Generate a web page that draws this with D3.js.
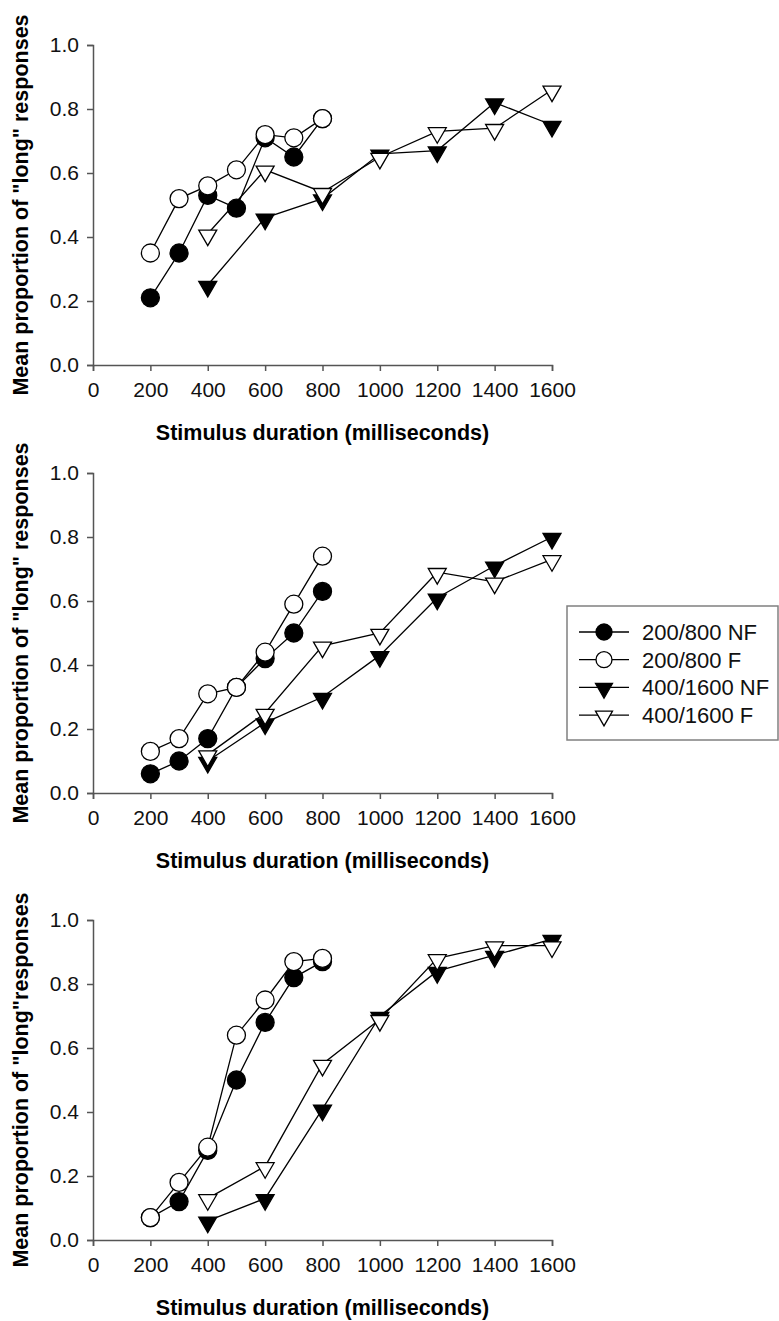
<!DOCTYPE html>
<html>
<head>
<meta charset="utf-8">
<script src="https://cdn.jsdelivr.net/npm/d3@7"></script>
<style>
  body { margin: 0; background: #fff; }
  svg { display: block; font-family: "Liberation Sans", Arial, sans-serif; }
</style>
</head>
<body>
<div id="chart"></div>
<script>
// stimulus durations for the two ranges
var shortDurations = [200, 300, 400, 500, 600, 700, 800];
var longDurations = [400, 600, 800, 1000, 1200, 1400, 1600];

var seriesNames = ['200/800 NF', '200/800 F', '400/1600 NF', '400/1600 F'];
var xTicks = [0, 200, 400, 600, 800, 1000, 1200, 1400, 1600];
var yTicks = [0, 0.2, 0.4, 0.6, 0.8, 1.0];
var xTitle = 'Stimulus duration (milliseconds)';
var yTitles = [
    'Mean proportion of "long" responses',
    'Mean proportion of "long" responses',
    'Mean proportion of "long"responses'
];

// top panel
var topShortNF = [0.21, 0.35, 0.53, 0.49, 0.71, 0.65, 0.77];
var topShortF = [0.35, 0.52, 0.56, 0.61, 0.72, 0.71, 0.77];
var topLongNF = [0.25, 0.46, 0.52, 0.66, 0.67, 0.82, 0.75];
var topLongF = [0.41, 0.61, 0.54, 0.65, 0.73, 0.74, 0.86];

// middle panel
var midShortNF = [0.06, 0.10, 0.17, 0.33, 0.42, 0.50, 0.63];
var midShortF = [0.13, 0.17, 0.31, 0.33, 0.44, 0.59, 0.74];
var midLongNF = [0.10, 0.22, 0.30, 0.43, 0.61, 0.71, 0.80];
var midLongF = [0.12, 0.25, 0.46, 0.50, 0.69, 0.66, 0.73];

// bottom panel
var botShortNF = [0.07, 0.12, 0.28, 0.50, 0.68, 0.82, 0.87];
var botShortF = [0.07, 0.18, 0.29, 0.64, 0.75, 0.87, 0.88];
var botLongNF = [0.06, 0.13, 0.41, 0.70, 0.84, 0.89, 0.94];
var botLongF = [0.13, 0.23, 0.55, 0.69, 0.88, 0.92, 0.92];

var panels = [
    {top: 45, series: [topShortNF, topShortF, topLongNF, topLongF]},
    {top: 473, series: [midShortNF, midShortF, midLongNF, midLongF]},
    {top: 920, series: [botShortNF, botShortF, botLongNF, botLongF]}
];

// marker style per series: shape + fill
var styles = [
    {shape: 'circle', fill: '#000'},
    {shape: 'circle', fill: '#fff'},
    {shape: 'triangle', fill: '#000'},
    {shape: 'triangle', fill: '#fff'}
];

var W = 779, H = 1321;
var left = 93, plotW = 459, plotH = 320;

var svg = d3.select('#chart').append('svg')
    .attr('width', W)
    .attr('height', H);

var xScale = d3.scaleLinear().domain([0, 1600]).range([left, left + plotW]);

var triPath = d3.symbol().type(d3.symbolTriangle).size(140)();
var triPathSmall = d3.symbol().type(d3.symbolTriangle).size(125)();

function drawMarker(g, shape, fill, x, y, small) {
    if (shape === 'circle') {
        g.append('circle')
            .attr('cx', x).attr('cy', y)
            .attr('r', small ? 8 : 9)
            .attr('fill', fill)
            .attr('stroke', '#000')
            .attr('stroke-width', 1.3);
    } else {
        g.append('path')
            .attr('d', small ? triPathSmall : triPath)
            .attr('transform', 'translate(' + x + ',' + (y + (small ? 1 : 1.5)) + ') rotate(180)')
            .attr('fill', fill)
            .attr('stroke', '#000')
            .attr('stroke-width', 1.3)
            .attr('stroke-linejoin', 'miter');
    }
}

panels.forEach(function (p, pi) {
    var yScale = d3.scaleLinear().domain([0, 1]).range([p.top + plotH, p.top]);
    var g = svg.append('g');

    // x axis
    var xAxis = g.append('g')
        .attr('transform', 'translate(0,' + (p.top + plotH) + ')')
        .call(d3.axisBottom(xScale).tickValues(xTicks).tickSizeOuter(0).tickSize(6).tickPadding(11)
            .tickFormat(d3.format('d')));

    // y axis
    var yAxis = g.append('g')
        .attr('transform', 'translate(' + left + ',0)')
        .call(d3.axisLeft(yScale).tickValues(yTicks).tickSizeOuter(0).tickSize(6).tickPadding(8)
            .tickFormat(d3.format('.1f')));

    [xAxis, yAxis].forEach(function (a) {
        a.selectAll('path, line').attr('stroke', '#555').attr('stroke-width', 1.5);
        a.selectAll('text')
            .attr('fill', '#111')
            .style('font-size', '21px')
            .style('font-family', '"Liberation Sans", Arial, sans-serif');
    });

    // x title
    g.append('text')
        .attr('x', left + plotW / 2)
        .attr('y', p.top + plotH + 75)
        .attr('text-anchor', 'middle')
        .style('font-size', '21.5px')
        .style('font-weight', 'bold')
        .text(xTitle);

    // y title
    g.append('text')
        .attr('transform', 'translate(28,' + (p.top + plotH / 2) + ') rotate(-90)')
        .attr('text-anchor', 'middle')
        .style('font-size', '21.5px')
        .style('font-weight', 'bold')
        .text(yTitles[pi]);

    var line = d3.line()
        .x(function (d) { return xScale(d.x); })
        .y(function (d) { return yScale(d.y); });

    p.series.forEach(function (vals, si) {
        var xs = si < 2 ? shortDurations : longDurations;
        var pts = vals.map(function (v, i) { return {x: xs[i], y: v}; });
        g.append('path')
            .datum(pts)
            .attr('fill', 'none')
            .attr('stroke', '#000')
            .attr('stroke-width', 1.3)
            .attr('d', line);
        pts.forEach(function (d) {
            drawMarker(g, styles[si].shape, styles[si].fill, xScale(d.x), yScale(d.y), false);
        });
    });
});

// legend
var lg = svg.append('g');
lg.append('rect')
    .attr('x', 567).attr('y', 606)
    .attr('width', 211).attr('height', 134)
    .attr('fill', '#fff')
    .attr('stroke', '#808080')
    .attr('stroke-width', 1.5);

seriesNames.forEach(function (name, i) {
    var cy = 632 + i * 27.7;
    lg.append('line')
        .attr('x1', 579).attr('x2', 629)
        .attr('y1', cy).attr('y2', cy)
        .attr('stroke', '#000')
        .attr('stroke-width', 1.3);
    drawMarker(lg, styles[i].shape, styles[i].fill, 604, cy, true);
    lg.append('text')
        .attr('x', 642)
        .attr('y', cy)
        .attr('dy', '0.36em')
        .style('font-size', '22px')
        .attr('fill', '#111')
        .text(name);
});
</script>
</body>
</html>
